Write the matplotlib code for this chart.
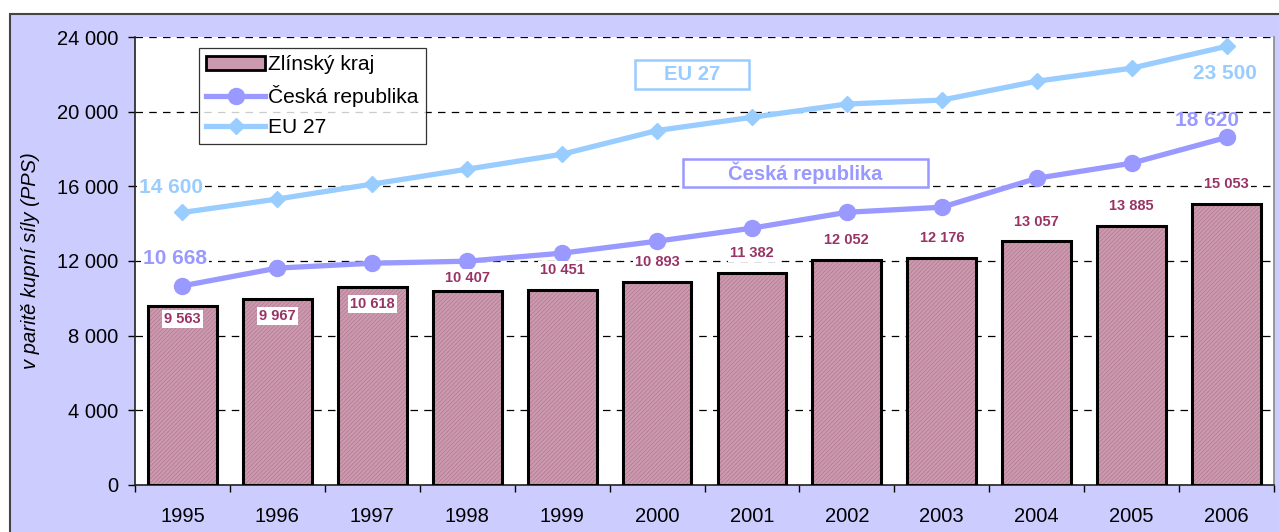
import matplotlib
matplotlib.use("Agg")
import matplotlib.pyplot as plt
from matplotlib.patches import Rectangle, Patch
from matplotlib.lines import Line2D
import numpy as np

years = ["1995", "1996", "1997", "1998", "1999", "2000", "2001", "2002", "2003", "2004", "2005", "2006"]
zlin = [9563, 9967, 10618, 10407, 10451, 10893, 11382, 12052, 12176, 13057, 13885, 15053]
cz = [10668, 11620, 11880, 11990, 12420, 13060, 13760, 14610, 14880, 16430, 17240, 18620]
eu = [14600, 15320, 16120, 16920, 17720, 18990, 19700, 20410, 20620, 21630, 22330, 23500]
yticks = [0, 4000, 8000, 12000, 16000, 20000, 24000]

def fmt(v):
    return f"{v:,}".replace(",", " ")

plt.rcParams['font.family'] = ['Liberation Sans', 'DejaVu Sans']
plt.rcParams['hatch.linewidth'] = 0.5

BAR_LBL = '#993366'
CZ_C = '#9999FF'
EU_C = '#99CCFF'
WHITE_BOX = dict(facecolor='white', edgecolor='none', pad=1.5)

fig = plt.figure(figsize=(12.79, 5.32), dpi=100)
fig.patches.append(Rectangle((10/1279, -0.01), 1.01 - 10/1279, 1.01 - 14/532, transform=fig.transFigure,
                             facecolor='#CCCCFF', edgecolor='#444444', linewidth=1.5, zorder=-5))

ax = fig.add_axes([135/1279, 47/532, (1274-135)/1279, (485-37)/532])
ax.set_facecolor('white')
x = np.arange(len(years))

ax.bar(x, zlin, width=0.725, color='#CC9AAF', edgecolor='#B27892', hatch='////////', linewidth=0, zorder=2)
ax.bar(x, zlin, width=0.725, fill=False, edgecolor='black', linewidth=2.2, zorder=3)

ax.plot(x, cz, color=CZ_C, linewidth=3.8, marker='o', markersize=11.5, zorder=4)
ax.plot(x, eu, color=EU_C, linewidth=3.8, marker='D', markersize=8, zorder=4)

for i, v in enumerate(zlin):
    if i < 3:
        off = -650 if i == 0 else -900
    else:
        off = 700 if i == 3 else 1050
    ax.text(i, v + off, fmt(v), ha='center', va='center', fontsize=10.5, fontweight='bold', color=BAR_LBL,
            bbox=WHITE_BOX, zorder=5)

ax.text(-0.12, eu[0] + 1360, fmt(eu[0]), ha='center', va='center', fontsize=15, fontweight='bold', color=EU_C,
        bbox=WHITE_BOX, zorder=6)
ax.text(-0.08, cz[0] + 1490, fmt(cz[0]), ha='center', va='center', fontsize=15, fontweight='bold', color=CZ_C,
        bbox=WHITE_BOX, zorder=6)
ax.text(10.98, eu[-1] - 1430, fmt(eu[-1]), ha='center', va='center', fontsize=15, fontweight='bold', color=EU_C, zorder=6)
ax.text(10.79, cz[-1] + 930, fmt(cz[-1]), ha='center', va='center', fontsize=15, fontweight='bold', color=CZ_C, zorder=6)

# series name boxes
ax.add_patch(Rectangle((5.37 - 0.6, 22010 - 770), 1.2, 1540, facecolor='white', edgecolor=EU_C, linewidth=1.8, zorder=6))
ax.text(5.37, 22010, "EU 27", ha='center', va='center', fontsize=14.5, fontweight='bold', color=EU_C, zorder=7)
ax.add_patch(Rectangle((6.56 - 1.29, 16710 - 750), 2.58, 1500, facecolor='white', edgecolor=CZ_C, linewidth=1.8, zorder=6))
ax.text(6.56, 16710, "Česká republika", ha='center', va='center', fontsize=14.5, fontweight='bold', color=CZ_C, zorder=7)

ax.set_xlim(-0.5, 11.5)
ax.set_ylim(0, 24000)
ax.set_yticks(yticks)
ax.set_yticklabels([fmt(v) for v in yticks], fontsize=14.5)
ax.yaxis.grid(True, linestyle=(0, (6, 5)), color='black', linewidth=0.9, zorder=1)
ax.set_axisbelow(True)
ax.set_xticks(np.arange(-0.5, 12, 1))
ax.set_xticklabels([])
ax.set_xticks(x, minor=True)
ax.set_xticklabels(years, minor=True, fontsize=14.5)
ax.tick_params(axis='x', which='minor', length=0, pad=16)
ax.tick_params(axis='x', which='major', length=5, direction='out', width=1)
ax.tick_params(axis='y', length=5, direction='out', pad=7, width=1)
ax.set_ylabel("v paritě kupní síly (PPS)", fontsize=14.5, style='italic', labelpad=12)
for s in ['left', 'bottom']:
    ax.spines[s].set_color('#222222')
    ax.spines[s].set_linewidth(1.2)
ax.spines['top'].set_visible(False)
ax.spines['right'].set_color('#888888')
ax.spines['right'].set_linewidth(1.2)

handles = [Patch(facecolor='#CC9AAF', edgecolor='black', linewidth=2),
           Line2D([], [], color=CZ_C, linewidth=3.8, marker='o', markersize=11.5),
           Line2D([], [], color=EU_C, linewidth=3.8, marker='D', markersize=8)]
leg = ax.legend(handles, ['Zlínský kraj', 'Česká republika', 'EU 27'], loc='upper left',
                bbox_to_anchor=((199-135)/1139, (485-48)/448), borderaxespad=0, fontsize=15.1, frameon=True,
                fancybox=False, edgecolor='black', handlelength=2.8, handletextpad=0.15, borderpad=0.35,
                labelspacing=0.52)
leg.get_frame().set_linewidth(0.9)
leg.set_zorder(8)

fig.savefig("out.png", dpi=100)
